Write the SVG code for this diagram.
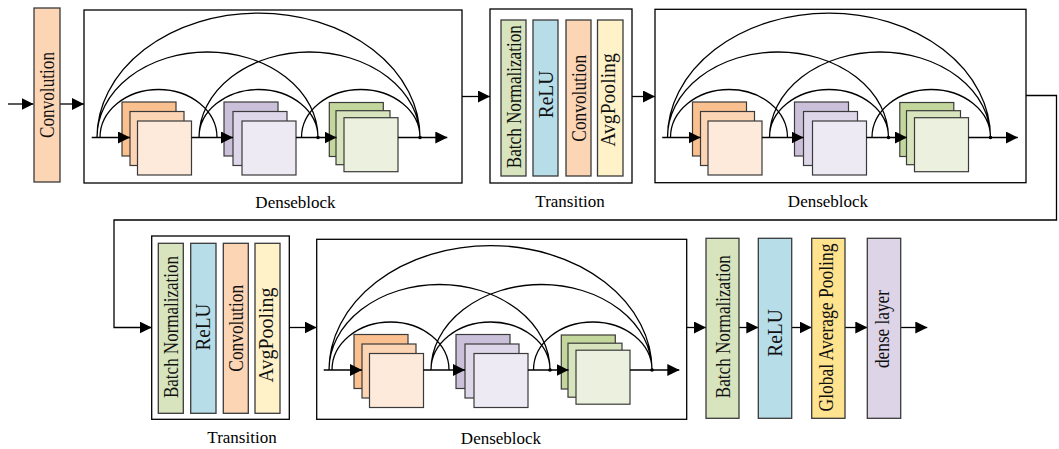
<svg xmlns="http://www.w3.org/2000/svg" xmlns:xlink="http://www.w3.org/1999/xlink" width="1059" height="449" viewBox="0 0 1059 449">
  <style>
    .box{fill:#fff;stroke:#000;stroke-width:1.3}
    .bar{stroke:#3a3a3a;stroke-width:1.3}
    .sq{stroke:#3a3a3a;stroke-width:1.2}
    .ln{fill:none;stroke:#000;stroke-width:1.3}
    .arr{fill:none;stroke:#000;stroke-width:1.3;marker-end:url(#ah)}
    .lbl{font-family:"Liberation Serif","Times New Roman",serif;font-size:17px;fill:#000;text-anchor:middle}
    .vt{font-family:"Liberation Serif","Times New Roman",serif;font-size:22px;fill:#111;text-anchor:middle}
    .vn{font-size:20.5px}
    .bn{fill:#D7E4BD}.relu{fill:#B7DDE8}.conv{fill:#FCD5B5}.avg{fill:#FFF2C9}.gap{fill:#FFE38F}.dense{fill:#DDD4E8}
  </style>
  <defs>
    <marker id="ah" markerUnits="userSpaceOnUse" markerWidth="12" markerHeight="12" refX="12" refY="6" orient="auto">
      <path d="M0,0 L12,6 L0,12 z" fill="#000"/>
    </marker>
    <!-- inner structure of a dense block: skip arcs, three feature-map stacks, main path -->
    <g id="dense-core">
      <path class="ln" d="M100,137.5 A58.5,48 0 0 1 217,137.5 M97,137.5 A110.5,85.5 0 0 1 318,137.5 M97,137.5 A161.5,124.5 0 0 1 420,137.5 M199,137.5 A59.5,48 0 0 1 318,137.5 M199,137.5 A110.5,85.5 0 0 1 420,137.5 M301.5,137.5 A59.25,48 0 0 1 420,137.5"/>
      <rect class="sq" x="122" y="102" width="54" height="54" fill="#FAC090"/>
      <rect class="sq" x="130" y="111.5" width="54" height="54" fill="#FCD5B5"/>
      <rect class="sq" x="137.5" y="121" width="54" height="54" fill="#FDEADA"/>
      <rect class="sq" x="224" y="102" width="54" height="54" fill="#CBC0DA"/>
      <rect class="sq" x="233" y="111.5" width="54" height="54" fill="#DED6E9"/>
      <rect class="sq" x="242" y="121" width="54" height="54" fill="#EEEAF4"/>
      <rect class="sq" x="329.3" y="102.5" width="54" height="54" fill="#C3D69B"/>
      <rect class="sq" x="336" y="110.7" width="54" height="54" fill="#D7E4BD"/>
      <rect class="sq" x="344" y="117.7" width="54" height="54" fill="#EBF1DE"/>
      <path class="arr" d="M91.7,137.5 H130"/>
      <path class="arr" d="M191.5,137.5 H233"/>
      <path class="arr" d="M296,137.5 H336.5"/>
      <path class="arr" d="M398,137.5 H447.3"/>
      <circle cx="318" cy="137.5" r="1.8" fill="#000"/>
      <circle cx="420" cy="137.5" r="1.8" fill="#000"/>
    </g>
  </defs>

  <rect width="1059" height="449" fill="#fff"/>

  <!-- connectors -->
  <g id="connectors">
    <path class="arr" d="M8,104 H33.5"/>
    <path class="arr" d="M60,104 H84"/>
    <path class="arr" d="M462,96.5 H490"/>
    <path class="arr" d="M632,96.5 H655"/>
    <path class="arr" d="M1026,95.5 H1056.5 V220 H114 V327.5 H151.7"/>
    <path class="arr" d="M289.3,327.5 H316.7"/>
    <path class="arr" d="M686.7,327.5 H706"/>
    <path class="arr" d="M739,327.5 H758.3"/>
    <path class="arr" d="M791.7,327.5 H811.7"/>
    <path class="arr" d="M845,327.5 H867.3"/>
    <path class="arr" d="M900.7,327.5 H927.3"/>
  </g>

  <!-- stem convolution -->
  <g id="conv-stem">
    <rect class="bar conv" x="34" y="8" width="26" height="174"/>
    <text class="vt" transform="translate(47,95) rotate(-90)" y="7.3" textLength="86" lengthAdjust="spacingAndGlyphs">Convolution</text>
  </g>

  <!-- dense block 1 -->
  <g id="denseblock-1">
    <rect class="box" x="84" y="10" width="378" height="173"/>
    <use xlink:href="#dense-core" href="#dense-core"/>
    <text class="lbl" x="295.5" y="208">Denseblock</text>
  </g>

  <!-- transition 1 -->
  <g id="transition-1">
    <rect class="box" x="490" y="9" width="142" height="174"/>
    <rect class="bar bn" x="501" y="20" width="25" height="156"/>
    <rect class="bar relu" x="533" y="20" width="25" height="156"/>
    <rect class="bar conv" x="566" y="20" width="25" height="156"/>
    <rect class="bar avg" x="597.5" y="20" width="25.5" height="156"/>
    <text class="vt vn" transform="translate(513.5,96.7) rotate(-90)" y="7" textLength="143" lengthAdjust="spacingAndGlyphs">Batch Normalization</text>
    <text class="vt vn" transform="translate(545.5,94.5) rotate(-90)" y="7" textLength="47.6" lengthAdjust="spacingAndGlyphs">ReLU</text>
    <text class="vt vn" transform="translate(578.5,98.3) rotate(-90)" y="7" textLength="86.7" lengthAdjust="spacingAndGlyphs">Convolution</text>
    <text class="vt vn" transform="translate(610,100) rotate(-90)" y="5" textLength="93.4" lengthAdjust="spacingAndGlyphs">AvgPooling</text>
    <text class="lbl" x="570" y="207">Transition</text>
  </g>

  <!-- dense block 2 -->
  <g id="denseblock-2">
    <rect class="box" x="655" y="9.3" width="371" height="173.4"/>
    <use xlink:href="#dense-core" href="#dense-core" transform="translate(570.5,0)"/>
    <text class="lbl" x="828" y="207">Denseblock</text>
  </g>

  <!-- transition 2 -->
  <g id="transition-2">
    <rect class="box" x="151.7" y="236" width="137.6" height="183.3"/>
    <rect class="bar bn" x="158.3" y="243.3" width="25" height="170"/>
    <rect class="bar relu" x="190.7" y="243.3" width="25.3" height="170"/>
    <rect class="bar conv" x="223.3" y="243.3" width="25" height="170"/>
    <rect class="bar avg" x="255" y="243.3" width="25" height="170"/>
    <text class="vt vn" transform="translate(170.8,327) rotate(-90)" y="7" textLength="142" lengthAdjust="spacingAndGlyphs">Batch Normalization</text>
    <text class="vt vn" transform="translate(203.3,327) rotate(-90)" y="7" textLength="47" lengthAdjust="spacingAndGlyphs">ReLU</text>
    <text class="vt vn" transform="translate(235.8,328.3) rotate(-90)" y="7" textLength="86.7" lengthAdjust="spacingAndGlyphs">Convolution</text>
    <text class="vt vn" transform="translate(267.5,335) rotate(-90)" y="5" textLength="95" lengthAdjust="spacingAndGlyphs">AvgPooling</text>
    <text class="lbl" x="242" y="443">Transition</text>
  </g>

  <!-- dense block 3 -->
  <g id="denseblock-3">
    <rect class="box" x="316.7" y="239.3" width="370" height="180"/>
    <use xlink:href="#dense-core" href="#dense-core" transform="translate(232,232.5)"/>
    <text class="lbl" x="501" y="443.5">Denseblock</text>
  </g>

  <!-- classification head -->
  <g id="head-bn">
    <rect class="bar bn" x="706" y="238.3" width="33" height="180"/>
    <text class="vt" transform="translate(722.5,326.7) rotate(-90)" y="7.3" textLength="143" lengthAdjust="spacingAndGlyphs">Batch Normalization</text>
  </g>
  <g id="head-relu">
    <rect class="bar relu" x="758.3" y="238.3" width="33.4" height="180"/>
    <text class="vt" transform="translate(775,333) rotate(-90)" y="7.3" textLength="47.6" lengthAdjust="spacingAndGlyphs">ReLU</text>
  </g>
  <g id="head-gap">
    <rect class="bar gap" x="811.7" y="238.3" width="33.3" height="180"/>
    <text class="vt" transform="translate(828.3,327.5) rotate(-90)" y="5" textLength="168" lengthAdjust="spacingAndGlyphs">Global Average Pooling</text>
  </g>
  <g id="head-dense">
    <rect class="bar dense" x="867.3" y="238.3" width="33.4" height="180"/>
    <text class="vt" transform="translate(884,329) rotate(-90)" y="5" textLength="78" lengthAdjust="spacingAndGlyphs">dense layer</text>
  </g>
</svg>
